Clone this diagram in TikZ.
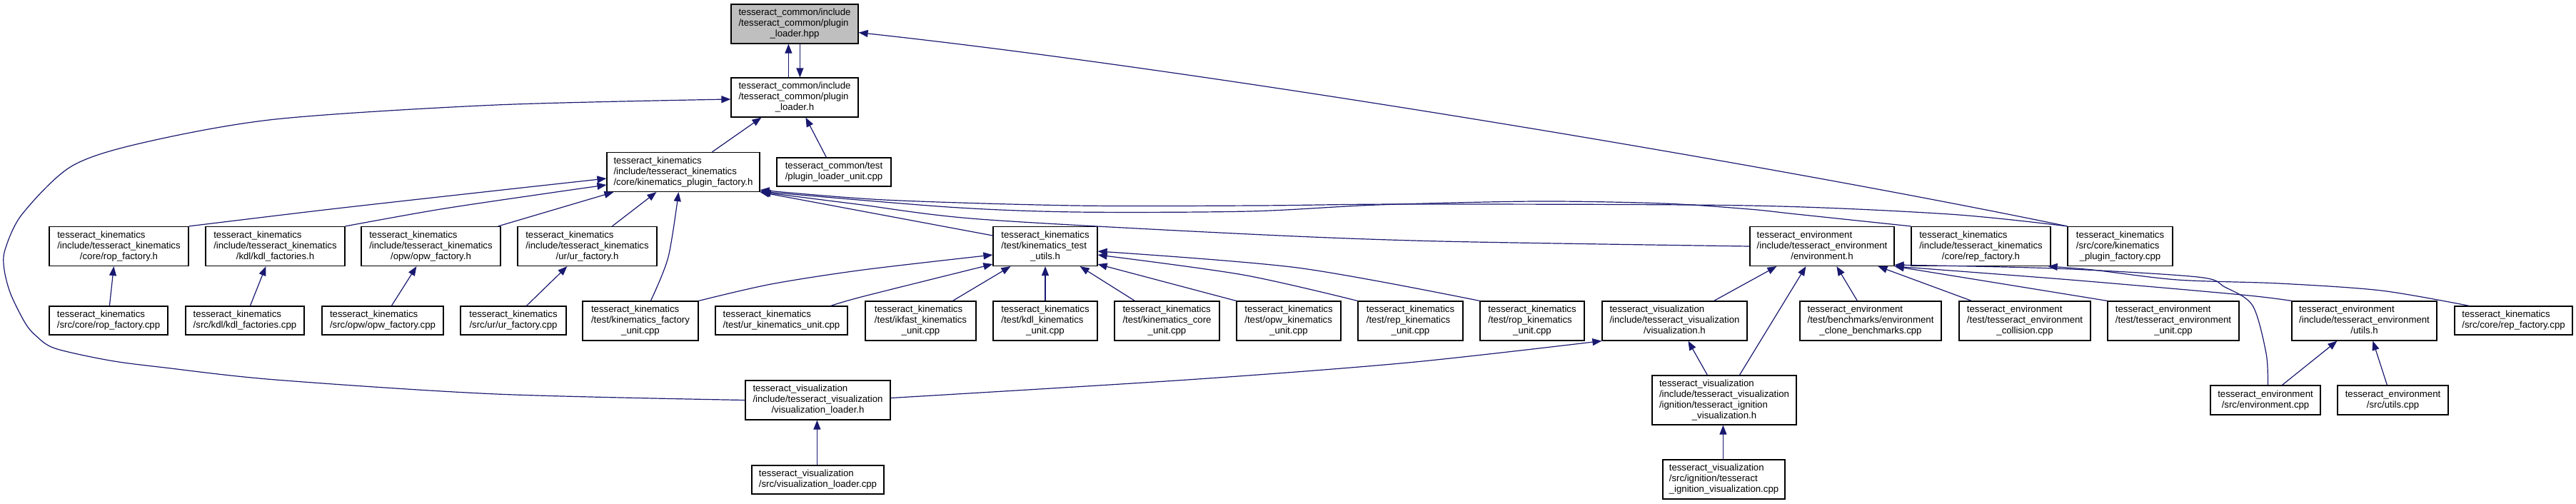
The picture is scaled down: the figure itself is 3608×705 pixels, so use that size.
\documentclass[tikz,border=0pt]{standalone}
\usepackage{fontspec}
\setmainfont{Liberation Sans}
\usetikzlibrary{arrows.meta,calc}
\definecolor{edgeblue}{HTML}{191970}
\definecolor{nodegray}{HTML}{BFBFBF}
\newcommand{\glab}[2]{\begin{tabular}{@{}l@{}}#1\\\multicolumn{1}{@{}c@{}}{#2}\end{tabular}}
\tikzset{
  gbox/.style={draw=black, line width=1.2pt, fill=white, inner sep=0pt,
    font={\fontsize{13.2}{15}\selectfont}},
  edge/.style={draw=edgeblue, line width=1.2pt, -{Triangle[length=13pt,width=10pt]}}
}
\begin{document}
\begin{tikzpicture}[x=1pt,y=-1pt]
\useasboundingbox (0,0) rectangle (3608,705);
% ---------- nodes ----------
\node[gbox,fill=nodegray,minimum width=178,minimum height=55] (A) at (1113,33.5) {\glab{tesseract\_common/include\\/tesseract\_common/plugin}{\_loader.hpp}};
\node[gbox,minimum width=178,minimum height=55] (B) at (1113,136.5) {\glab{tesseract\_common/include\\/tesseract\_common/plugin}{\_loader.h}};
\node[gbox,minimum width=214,minimum height=55] (C) at (957,241) {\glab{tesseract\_kinematics\\/include/tesseract\_kinematics}{/core/kinematics\_plugin\_factory.h}};
\node[gbox,minimum width=160,minimum height=40] (D) at (1168,241) {\glab{tesseract\_common/test}{/plugin\_loader\_unit.cpp}};
\node[gbox,minimum width=195,minimum height=55] (ropH) at (166.5,345) {\glab{tesseract\_kinematics\\/include/tesseract\_kinematics}{/core/rop\_factory.h}};
\node[gbox,minimum width=195,minimum height=55] (kdlH) at (385.5,345) {\glab{tesseract\_kinematics\\/include/tesseract\_kinematics}{/kdl/kdl\_factories.h}};
\node[gbox,minimum width=195,minimum height=55] (opwH) at (603.5,345) {\glab{tesseract\_kinematics\\/include/tesseract\_kinematics}{/opw/opw\_factory.h}};
\node[gbox,minimum width=195,minimum height=55] (urH) at (822.5,345) {\glab{tesseract\_kinematics\\/include/tesseract\_kinematics}{/ur/ur\_factory.h}};
\node[gbox,minimum width=166,minimum height=40] (ropC) at (152,449) {\glab{tesseract\_kinematics}{/src/core/rop\_factory.cpp}};
\node[gbox,minimum width=166,minimum height=40] (kdlC) at (343,449) {\glab{tesseract\_kinematics}{/src/kdl/kdl\_factories.cpp}};
\node[gbox,minimum width=170,minimum height=40] (opwC) at (536,449) {\glab{tesseract\_kinematics}{/src/opw/opw\_factory.cpp}};
\node[gbox,minimum width=148,minimum height=40] (urC) at (719,449) {\glab{tesseract\_kinematics}{/src/ur/ur\_factory.cpp}};
\node[gbox,minimum width=162,minimum height=55] (kfu) at (897,449.5) {\glab{tesseract\_kinematics\\/test/kinematics\_factory}{\_unit.cpp}};
\node[gbox,minimum width=185,minimum height=40] (urku) at (1094.5,449) {\glab{tesseract\_kinematics}{/test/ur\_kinematics\_unit.cpp}};
\node[gbox,minimum width=146,minimum height=55] (ktu) at (1464,345) {\glab{tesseract\_kinematics\\/test/kinematics\_test}{\_utils.h}};
\node[gbox,minimum width=155,minimum height=55] (ikf) at (1289.5,449.5) {\glab{tesseract\_kinematics\\/test/ikfast\_kinematics}{\_unit.cpp}};
\node[gbox,minimum width=146,minimum height=55] (kdlku) at (1464,449.5) {\glab{tesseract\_kinematics\\/test/kdl\_kinematics}{\_unit.cpp}};
\node[gbox,minimum width=147,minimum height=55] (coreu) at (1634.5,449.5) {\glab{tesseract\_kinematics\\/test/kinematics\_core}{\_unit.cpp}};
\node[gbox,minimum width=146,minimum height=55] (opwku) at (1805,449.5) {\glab{tesseract\_kinematics\\/test/opw\_kinematics}{\_unit.cpp}};
\node[gbox,minimum width=147,minimum height=55] (repku) at (1975.5,449.5) {\glab{tesseract\_kinematics\\/test/rep\_kinematics}{\_unit.cpp}};
\node[gbox,minimum width=146,minimum height=55] (ropku) at (2146,449.5) {\glab{tesseract\_kinematics\\/test/rop\_kinematics}{\_unit.cpp}};
\node[gbox,minimum width=203,minimum height=55] (visH) at (2345.5,449.5) {\glab{tesseract\_visualization\\/include/tesseract\_visualization}{/visualization.h}};
\node[gbox,minimum width=203,minimum height=55] (visLH) at (1145.5,560.5) {\glab{tesseract\_visualization\\/include/tesseract\_visualization}{/visualization\_loader.h}};
\node[gbox,minimum width=185,minimum height=40] (visLC) at (1145.5,672) {\glab{tesseract\_visualization}{/src/visualization\_loader.cpp}};
\node[gbox,minimum width=202,minimum height=69] (ignH) at (2415,560.5) {\glab{tesseract\_visualization\\/include/tesseract\_visualization\\/ignition/tesseract\_ignition}{\_visualization.h}};
\node[gbox,minimum width=171,minimum height=55] (ignC) at (2414.5,671.5) {\glab{tesseract\_visualization\\/src/ignition/tesseract}{\_ignition\_visualization.cpp}};
\node[gbox,minimum width=202,minimum height=55] (envH) at (2552,345) {\glab{tesseract\_environment\\/include/tesseract\_environment}{/environment.h}};
\node[gbox,minimum width=195,minimum height=55] (repH) at (2774.5,345) {\glab{tesseract\_kinematics\\/include/tesseract\_kinematics}{/core/rep\_factory.h}};
\node[gbox,minimum width=147,minimum height=55] (kpfC) at (2969.5,345) {\glab{tesseract\_kinematics\\/src/core/kinematics}{\_plugin\_factory.cpp}};
\node[gbox,minimum width=198,minimum height=55] (clone) at (2620,449.5) {\glab{tesseract\_environment\\/test/benchmarks/environment}{\_clone\_benchmarks.cpp}};
\node[gbox,minimum width=184,minimum height=55] (coll) at (2836,449.5) {\glab{tesseract\_environment\\/test/tesseract\_environment}{\_collision.cpp}};
\node[gbox,minimum width=184,minimum height=55] (envu) at (3044,449.5) {\glab{tesseract\_environment\\/test/tesseract\_environment}{\_unit.cpp}};
\node[gbox,minimum width=203,minimum height=55] (utilsH) at (3311.5,449.5) {\glab{tesseract\_environment\\/include/tesseract\_environment}{/utils.h}};
\node[gbox,minimum width=165,minimum height=40] (repC) at (3520.5,449) {\glab{tesseract\_kinematics}{/src/core/rep\_factory.cpp}};
\node[gbox,minimum width=154,minimum height=41] (envC) at (3173,560.5) {\glab{tesseract\_environment}{/src/environment.cpp}};
\node[gbox,minimum width=155,minimum height=41] (utilsC) at (3351.5,560.5) {\glab{tesseract\_environment}{/src/utils.cpp}};
% ---------- edges ----------
\draw[edge] ($(B.north west)+(81,0)$) -- ($(A.south west)+(81,0)$);
\draw[edge] ($(A.south west)+(97,0)$) -- ($(B.north west)+(97,0)$);
\draw[edge] (kpfC.north west) .. controls (2496,234) and (1704,100) .. ($(A.south east)+(0,-16)$);
\draw[edge] ($(C.north west)+(148,0)$) -- ($(B.south west)+(43,0)$);
\draw[edge] ($(D.north west)+(70,0)$) -- ($(B.south west)+(105,0)$);
\draw[edge] plot[smooth,tension=0.5] coordinates {(visLH.west) (695,552) (386,532) (231,515) (154,505) (77,488) (50,470) (35,452) (15,412) (6,378) (7,350) (31,300) (100,233) (200,200) (386,167) (695,147) ($(B.west)+(0,2.5)$)};
\draw[edge] plot[smooth] coordinates {(ropH.north east) (463,293) (695,267) ($(C.west)+(0,9)$)};
\draw[edge] plot[smooth] coordinates {(kdlH.north east) (617,293) (772,270) ($(C.west)+(0,18)$)};
\draw[edge] ($(opwH.north east)+(-4,0)$) -- ($(C.south west)+(10,0)$);
\draw[edge] ($(urH.north west)+(133,0)$) -- ($(C.south west)+(70,0)$);
\draw[edge] plot[smooth] coordinates {($(kfu.north west)+(96,0)$) (936,360) ($(C.south west)+(101,0)$)};
\draw[edge] ($(ropC.north west)+(85,0)$) -- ($(ropH.south west)+(91,0)$);
\draw[edge] ($(kdlC.north west)+(91,0)$) -- ($(kdlH.south west)+(85,0)$);
\draw[edge] ($(opwC.north west)+(98,0)$) -- ($(opwH.south west)+(78,0)$);
\draw[edge] ($(urC.north west)+(93,0)$) -- ($(urH.south west)+(70,0)$);
\draw[edge] plot[smooth] coordinates {(kfu.north east) (1080,398) (1209,378) ($(ktu.west)+(0,12)$)};
\draw[edge] plot[smooth] coordinates {($(urku.north east)+(-24,0)$) (1210,415) ($(ktu.west)+(0,25)$)};
\draw[edge] ($(ikf.north west)+(123,0)$) -- ($(ktu.south west)+(25,0)$);
\draw[edge] (kdlku.north) -- (ktu.south);
\draw[edge] ($(coreu.north west)+(29,0)$) -- ($(ktu.south east)+(-25,0)$);
\draw[edge] (opwku.north west) -- ($(ktu.south east)+(0,-3)$);
\draw[edge] plot[smooth] coordinates {(repku.north west) (1741,385) ($(ktu.east)+(0,12)$)};
\draw[edge] plot[smooth] coordinates {(ropku.north west) (1817,375) ($(ktu.east)+(0,7)$)};
\draw[edge] ($(ktu.west)+(0,-15)$) -- (C.south east);
\draw[edge] plot[smooth] coordinates {(envH.west) (2018,338) (1750,328) (1372,307) (1200,286) ($(C.south east)+(2,0)$)};
\draw[edge] plot[smooth] coordinates {(kpfC.north west) (2730,300) (2450,288) (1973,286) (1760,288) (1506,288) (1239,280) ($(C.south east)+(0,-3)$)};
\draw[edge] plot[smooth] coordinates {(repH.north west) (2516,300) (2450,293) (2330,285) (2152,282) (1929,287) (1750,296) (1506,297) (1328,290) ($(C.south east)+(0,-1)$)};
\draw[edge] plot[smooth] coordinates {($(visLH.east)+(0,-3)$) (1663,532) (1972,508) (visH.south west)};
\draw[edge] ($(ignH.north west)+(78,0)$) -- ($(visH.south west)+(121,0)$);
\draw[edge] ($(ignC.north west)+(85,0)$) -- ($(ignH.south west)+(100,0)$);
\draw[edge] ($(visLC.north west)+(92,0)$) -- ($(visLH.south west)+(101,0)$);
\draw[edge] ($(visH.north east)+(-47,0)$) -- ($(envH.south west)+(38,0)$);
\draw[edge] ($(ignH.north west)+(123,0)$) -- ($(envH.south west)+(79,0)$);
\draw[edge] ($(clone.north west)+(81,0)$) -- ($(envH.south west)+(122,0)$);
\draw[edge] ($(coll.north west)+(18,0)$) -- ($(envH.south west)+(180,0)$);
\draw[edge] (envu.north west) -- (envH.south east);
\draw[edge] plot[smooth] coordinates {(utilsH.north west) (3140,413) (2900,392) (envH.south east)};
\draw[edge] plot[smooth] coordinates {($(envC.north west)+(81,0)$) (3174,495) (3155,428) (3116,402) (3078,388) (2878,376) ($(envH.south east)+(0,-2)$)};
\draw[edge] plot[smooth] coordinates {($(repC.north west)+(21,0)$) (3335,407) (3192,397) (3050,392) (2931,378) ($(repH.south east)+(-4,0)$)};
\draw[edge] ($(envC.north west)+(101,0)$) -- ($(utilsH.south west)+(64,0)$);
\draw[edge] ($(utilsC.north west)+(70,0)$) -- ($(utilsH.south west)+(114,0)$);
\end{tikzpicture}
\end{document}
